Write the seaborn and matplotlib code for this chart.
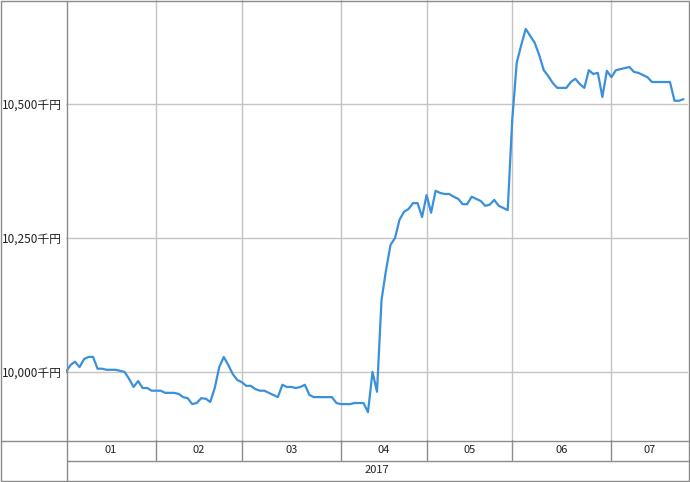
import numpy as np
import pandas as pd
import matplotlib
matplotlib.use("Agg")
import matplotlib.pyplot as plt
import matplotlib.transforms as mtransforms
import seaborn as sns

# ---- data ----
months = ["01", "02", "03", "04", "05", "06", "07"]
days_per_month = [20, 19, 22, 19, 19, 22, 17]
year_label = "2017"
values = [
    10000, 10013, 10019, 10009, 10024, 10028, 10028, 10006, 10006, 10004,
    10004, 10004, 10002, 10000, 9987, 9972, 9983, 9970, 9970, 9965,
    9965, 9965, 9961, 9961, 9961, 9959, 9953, 9951, 9940, 9942,
    9951, 9950, 9944, 9970, 10009, 10028, 10013, 9996, 9985, 9981,
    9974, 9974, 9968, 9965, 9965, 9961, 9957, 9953, 9976, 9972,
    9972, 9970, 9972, 9976, 9957, 9953, 9953, 9953, 9953, 9953,
    9942, 9940, 9940, 9940, 9942, 9942, 9942, 9925, 10000, 9963,
    10134, 10190, 10237, 10250, 10284, 10299, 10304, 10315, 10315, 10289,
    10330, 10297, 10338, 10334, 10332, 10332, 10327, 10323, 10313, 10313,
    10327, 10323, 10319, 10310, 10312, 10321, 10310, 10306, 10302, 10470,
    10577, 10610, 10640, 10627, 10614, 10591, 10563, 10552, 10539, 10530,
    10530, 10530, 10541, 10547, 10537, 10530, 10563, 10556, 10558, 10513,
    10562, 10550, 10563, 10565, 10567, 10569, 10560, 10558, 10554, 10550,
    10541, 10541, 10541, 10541, 10541, 10506, 10506, 10509,
]
y_ticks = [10000, 10250, 10500]
y_tick_labels = ["10,000千円", "10,250千円", "10,500千円"]

# ---- styling ----
sns.set_style("white")
plt.rcParams["font.family"] = ["Noto Sans CJK JP", "DejaVu Sans"]

LINE = "#3a90da"
GRID = "#c4c4c4"
FRAME = "#8c8c8c"

W, H = 690, 482
fig = plt.figure(figsize=(W / 100, H / 100), dpi=100)
fig.patch.set_facecolor("white")

ax = fig.add_axes([66 / W, (H - 440) / H, 622 / W, 440 / H])

df = pd.DataFrame({"idx": np.arange(len(values)), "value": values})
sns.lineplot(data=df, x="idx", y="value", ax=ax, color=LINE, linewidth=1.6, zorder=3)

bounds = np.cumsum([0] + days_per_month)
ax.set_xlim(0, bounds[-1])
ax.set_ylim(9873, 10694)

for b in bounds[1:-1]:
    ax.axvline(b, color=GRID, linewidth=1.0, zorder=1)
for t in y_ticks:
    ax.axhline(t, color=GRID, linewidth=1.0, zorder=1)

ax.set_xticks([])
ax.set_yticks(y_ticks)
ax.set_yticklabels(y_tick_labels, fontsize=8.5, color="#222222")
ax.tick_params(axis="y", length=0, pad=3)
ax.set_xlabel("")
ax.set_ylabel("")
for s in ax.spines.values():
    s.set_visible(False)

# month rows below the plot (x in data, y in axes fraction)
trans = mtransforms.blended_transform_factory(ax.transData, ax.transAxes)
row1_top, row1_bot, row2_bot = 0.0, -20 / 440, -40 / 440
for b in bounds[1:-1]:
    ax.plot([b, b], [row1_top, row1_bot], transform=trans, color=FRAME,
            linewidth=1.0, clip_on=False)
for i, m in enumerate(months):
    cx = (bounds[i] + bounds[i + 1]) / 2
    ax.text(cx, -10 / 440, m, transform=trans, ha="center", va="center",
            fontsize=8, color="#222222", clip_on=False)
ax.text(0.5, -30 / 440, year_label, transform=ax.transAxes, ha="center",
        va="center", fontsize=8, color="#222222")

# frame overlay in pixel coordinates
ov = fig.add_axes([0, 0, 1, 1], zorder=5)
ov.set_xlim(0, W)
ov.set_ylim(H, 0)
ov.axis("off")
ov.patch.set_alpha(0)
kw = dict(color=FRAME, linewidth=1.0)
ov.plot([0.5, 688.5], [440.5, 440.5], **kw)
ov.plot([66.5, 688.5], [460.5, 460.5], **kw)
ov.plot([0.5, 688.5], [480.5, 480.5], **kw)
ov.plot([0.5, 688.5], [0.5, 0.5], **kw)
ov.plot([66.5, 66.5], [0.5, 480.5], **kw)
ov.plot([0.5, 0.5], [0.5, 480.5], **kw)
ov.plot([688.5, 688.5], [0.5, 480.5], **kw)

fig.savefig("out.png", dpi=100, facecolor="white")
